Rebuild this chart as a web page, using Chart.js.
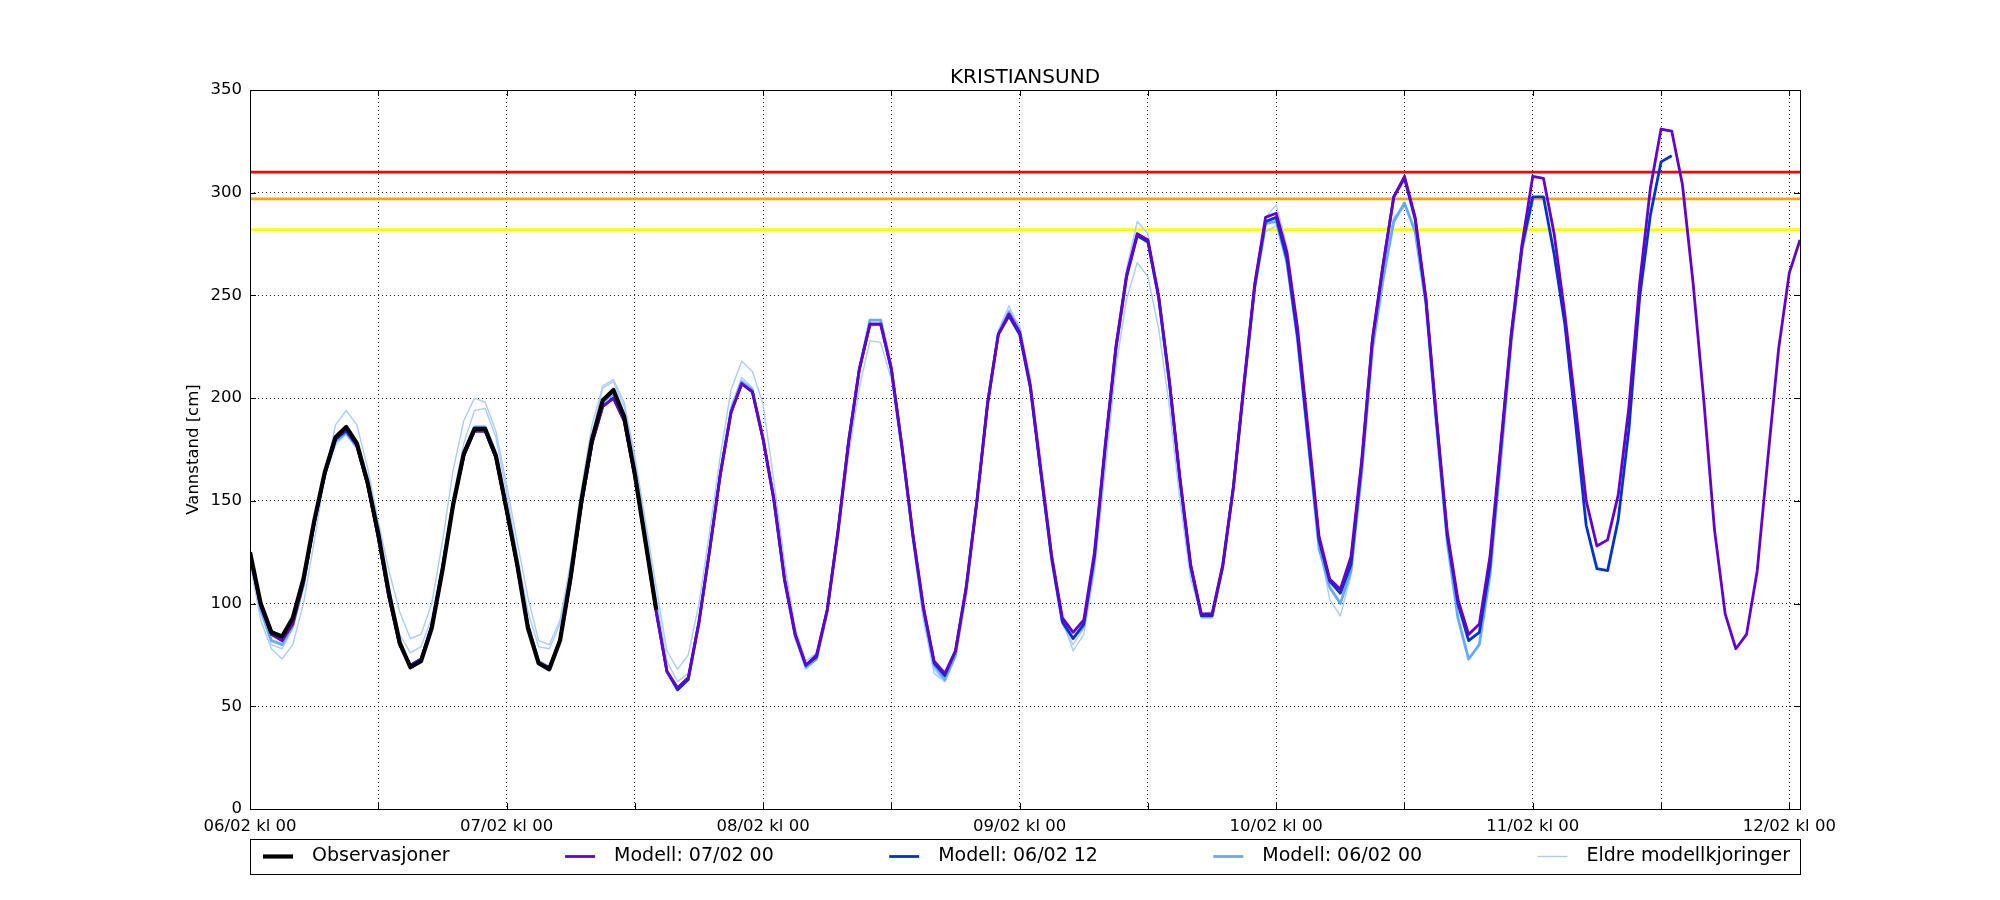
<!DOCTYPE html>
<html>
<head>
<meta charset="utf-8">
<title>KRISTIANSUND</title>
<script src="https://cdn.jsdelivr.net/npm/chart.js@4.4.1/dist/chart.umd.min.js"></script>
<style>
  html, body { margin: 0; padding: 0; background: #fff; }
  canvas { display: block; }
</style>
</head>
<body>
<canvas id="chart" width="2000" height="900"></canvas>
<script>
// water level in cm, one value per hour, hour 0 = 06/02 kl 00
const dayLabels = ['06/02 kl 00', '07/02 kl 00', '08/02 kl 00', '09/02 kl 00', '10/02 kl 00', '11/02 kl 00', '12/02 kl 00']
const tickHours = [0, 12, 24, 36, 48, 60, 72, 84, 96, 108, 120, 132, 144]
const lastHour = 145

const thresholds = [310, 297, 282]
const thresholdColors = ['#ff0000', '#ffa500', '#ffff00']

const observations = [
  125, 100, 86, 84, 93, 112, 140, 164, 181, 186, 178, 159,
  134, 105, 81, 69, 72, 88, 116, 148, 173, 185, 185, 172,
  146, 119, 88, 71, 68, 82, 113, 150, 180, 199, 204, 191,
  163, 130, 97
]

const model0700 = [
  123, 99, 85, 82, 90, 110, 139, 163, 180, 185, 177, 158,
  132, 103, 80, 70, 73, 89, 117, 148, 172, 184, 184, 171,
  145, 118, 89, 71, 69, 82, 112, 148, 178, 196, 200, 189,
  162, 130, 96, 67, 59, 64, 91, 126, 163, 193, 207, 203,
  180, 151, 112, 85, 70, 75, 97, 135, 179, 214, 236, 236,
  214, 176, 134, 98, 72, 66, 77, 108, 150, 198, 231, 241,
  232, 206, 164, 123, 93, 86, 92, 125, 177, 225, 260, 280,
  277, 250, 209, 161, 119, 95, 95, 119, 157, 208, 256, 288,
  290, 271, 234, 184, 133, 112, 107, 123, 170, 229, 265, 298,
  308, 288, 249, 190, 135, 102, 85, 90, 123, 177, 232, 275,
  308, 307, 280, 241, 196, 150, 128, 131, 153, 196, 256, 302,
  331, 330, 304, 256, 199, 136, 95, 78, 85, 116, 171, 224,
  261, 277
]

const model0612 = [
  124, 99, 85, 82, 91, 111, 139, 163, 180, 184, 177, 158,
  132, 103, 80, 69, 72, 88, 117, 148, 172, 184, 184, 171,
  145, 118, 89, 71, 68, 82, 112, 148, 178, 196, 200, 189,
  162, 130, 96, 67, 58, 63, 91, 126, 163, 193, 207, 203,
  180, 151, 112, 85, 70, 74, 97, 135, 179, 214, 236, 236,
  214, 176, 134, 98, 71, 65, 77, 108, 150, 197, 231, 240,
  231, 205, 163, 122, 91, 83, 90, 123, 176, 224, 259, 279,
  276, 249, 208, 160, 118, 94, 94, 118, 157, 207, 255, 286,
  288, 268, 230, 180, 131, 111, 105, 119, 168, 228, 265, 298,
  307, 287, 248, 189, 133, 100, 82, 86, 118, 175, 231, 274,
  298, 298, 270, 236, 188, 138, 117, 116, 141, 185, 249, 289,
  315, 318
]

const model0600 = [
  124, 97, 82, 80, 89, 109, 139, 163, 179, 183, 176, 158,
  133, 104, 80, 70, 73, 89, 117, 149, 173, 186, 186, 173,
  147, 119, 90, 72, 69, 82, 112, 149, 179, 198, 202, 190,
  163, 131, 97, 67, 58, 63, 90, 126, 163, 194, 208, 204,
  180, 150, 111, 84, 69, 73, 96, 134, 178, 214, 238, 238,
  215, 176, 133, 96, 70, 63, 75, 106, 149, 197, 231, 242,
  233, 206, 163, 121, 91, 83, 89, 122, 175, 224, 259, 280,
  276, 249, 208, 160, 118, 94, 94, 118, 156, 206, 254, 285,
  286, 266, 228, 178, 127, 108, 100, 116, 164, 224, 258, 286,
  295, 281, 246, 186, 130, 93, 73, 80, 114, 170, 228, 272,
  297
]

// older runs, all shown with one legend entry
const older1 = [
  122, 96, 80, 78, 88, 108, 137, 162, 177, 183, 176, 158,
  133, 106, 85, 76, 79, 93, 120, 152, 178, 194, 195, 181,
  154, 124, 96, 79, 78, 90, 117, 152, 182, 205, 208, 196,
  170, 137, 102, 72, 62, 66, 93, 128, 165, 196, 210, 205,
  182, 153, 114, 85, 68, 73, 95, 134, 178, 212, 235, 236,
  213, 175, 133, 96, 68, 62, 74, 106, 150, 198, 233, 245,
  233, 205, 162, 120, 90, 80, 88, 122, 176, 226, 263, 286,
  280, 250, 207, 158, 116, 93, 93, 117, 156, 208, 258, 288,
  294, 274, 235, 182, 130, 102, 94, 114, 165, 226, 262, 288,
  293
]

const older2 = [
  120, 92, 78, 73, 80, 100, 130, 162, 187, 194, 187, 166,
  140, 116, 96, 83, 85, 100, 130, 165, 189, 200, 198, 184,
  158, 130, 103, 82, 80, 92, 120, 156, 187, 206, 209, 198,
  172, 140, 108, 77, 68, 75, 100, 135, 172, 204, 218, 213,
  197, 160, 120, 88, 72, 76, 96, 132, 172, 205, 228, 227,
  209, 172, 130, 92, 66, 62, 74, 105, 148, 196, 231, 243,
  235, 210, 170, 126, 92, 77, 85, 116, 165, 215, 248, 266,
  259, 234, 196, 150, 112, 95, 96, 118, 156, 205, 253, 281,
  284
]

function toPoints(arr) {
  return arr.map((v, i) => ({x: i, y: v}))
}

function series(label, arr, color, width, hide) {
  return {
    label: label,
    data: toPoints(arr),
    borderColor: color,
    backgroundColor: color,
    borderWidth: width,
    pointRadius: 0,
    borderJoinStyle: 'round',
    fill: false,
    hideInLegend: !!hide
  }
}

// first dataset ends up on top
const datasets = [
  series('Observasjoner', observations, '#000000', 4.2),
  series('Modell: 07/02 00', model0700, '#6600cc', 2.8),
  series('Modell: 06/02 12', model0612, '#0033cc', 2.8),
  series('Modell: 06/02 00', model0600, '#66aaff', 2.8),
  series('Eldre modellkjoringer', older1, '#aaccff', 1.4),
  series('Eldre modellkjoringer', older2, '#aaccff', 1.4, true)
]
thresholds.forEach((t, i) => {
  datasets.push(series('grense ' + t, [], thresholdColors[i], 2.8, true))
  datasets[datasets.length - 1].data = [{x: 0, y: t}, {x: lastHour, y: t}]
})

// frame, inward tick marks and the boxed legend under the axis
const decorations = {
  id: 'decorations',
  afterDraw(chart) {
    const ctx = chart.ctx
    const a = chart.chartArea
    const xs = chart.scales.x
    const ys = chart.scales.y
    ctx.save()
    ctx.strokeStyle = '#000'
    ctx.lineWidth = 1
    ctx.beginPath()
    xs.ticks.forEach(t => {
      const px = Math.round(xs.getPixelForValue(t.value)) + 0.5
      ctx.moveTo(px, a.bottom); ctx.lineTo(px, a.bottom - 6)
      ctx.moveTo(px, a.top); ctx.lineTo(px, a.top + 6)
    })
    ys.ticks.forEach(t => {
      const py = Math.round(ys.getPixelForValue(t.value)) + 0.5
      ctx.moveTo(a.left, py); ctx.lineTo(a.left + 6, py)
      ctx.moveTo(a.right, py); ctx.lineTo(a.right - 6, py)
    })
    ctx.stroke()
    ctx.strokeRect(Math.round(a.left) + 0.5, Math.round(a.top) + 0.5, Math.round(a.right - a.left), Math.round(a.bottom - a.top))

    // legend
    const items = chart.data.datasets.filter(d => !d.hideInLegend)
    const top = 839, h = 35
    const y = top + h / 2
    const handleW = 30, textGap = 19
    ctx.font = '19px "DejaVu Sans"'
    const widths = items.map(d => handleW + textGap + ctx.measureText(d.label).width)
    const innerL = a.left + 13, innerR = a.right - 10
    const sep = (innerR - innerL - widths.reduce((s, w) => s + w, 0)) / (items.length - 1)
    let x = innerL
    items.forEach((d, i) => {
      ctx.strokeStyle = d.borderColor
      ctx.lineWidth = d.borderWidth
      ctx.beginPath(); ctx.moveTo(x, y); ctx.lineTo(x + handleW, y); ctx.stroke()
      ctx.fillStyle = '#000'
      ctx.textBaseline = 'middle'
      ctx.textAlign = 'left'
      ctx.fillText(d.label, x + handleW + textGap, y)
      x += widths[i] + sep
    })
    ctx.strokeStyle = '#000'
    ctx.lineWidth = 1
    ctx.strokeRect(Math.round(a.left) + 0.5, top + 0.5, Math.round(a.right - a.left), h)
    ctx.restore()
  }
}

Chart.defaults.font.family = '"DejaVu Sans", sans-serif'
Chart.defaults.color = '#000'

const chart = new Chart(document.getElementById('chart').getContext('2d'), {
  type: 'line',
  data: {datasets: datasets},
  options: {
    responsive: false,
    animation: false,
    devicePixelRatio: 1,
    layout: {padding: {left: 180, right: 200, top: 0, bottom: 61}},
    elements: {line: {tension: 0}},
    plugins: {
      legend: {display: false},
      tooltip: {enabled: false},
      title: {
        display: true,
        fullSize: false, // centre over the plot, not the canvas
        text: 'KRISTIANSUND',
        color: '#000',
        font: {size: 20, weight: 'normal'},
        padding: {top: 66, bottom: 0}
      }
    },
    scales: {
      x: {
        type: 'linear',
        min: 0,
        max: lastHour,
        afterBuildTicks: scale => { scale.ticks = tickHours.map(v => ({value: v})) },
        afterFit: scale => { scale.height = 30 },
        ticks: {
          autoSkip: false,
          maxRotation: 0,
          minRotation: 0,
          padding: 8,
          font: {size: 16.5},
          callback: v => (v % 24 === 0 ? dayLabels[v / 24] : '')
        },
        grid: {color: 'rgba(0,0,0,0.85)', lineWidth: 1, drawTicks: false},
        border: {display: false, dash: [1, 3]}
      },
      y: {
        min: 0,
        max: 350,
        afterFit: scale => { scale.width = 70 },
        ticks: {stepSize: 50, padding: 8, font: {size: 16.5}},
        grid: {color: 'rgba(0,0,0,0.85)', lineWidth: 1, drawTicks: false},
        border: {display: false, dash: [1, 3]},
        title: {display: true, text: 'Vannstand [cm]', font: {size: 16.5}, padding: {top: 4, bottom: 0}}
      }
    }
  },
  plugins: [decorations]
})
</script>
</body>
</html>
